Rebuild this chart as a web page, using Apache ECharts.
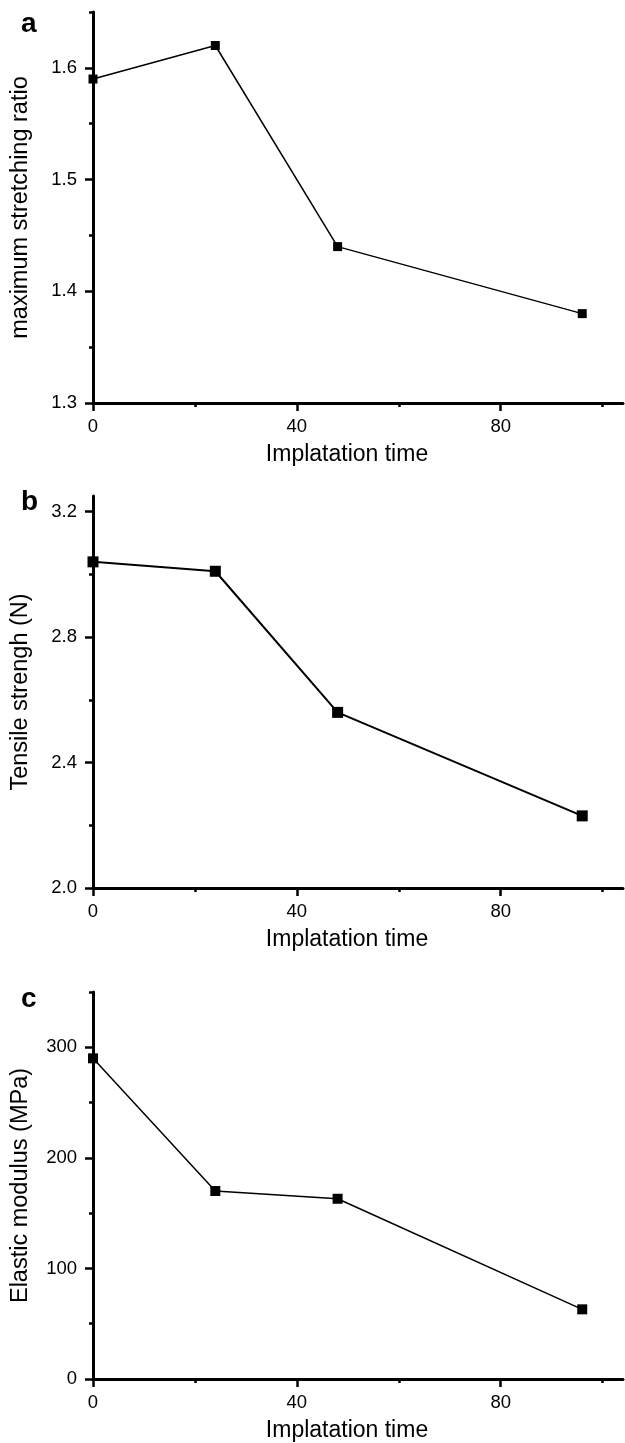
<!DOCTYPE html>
<html>
<head>
<meta charset="utf-8">
<script src="https://cdn.jsdelivr.net/npm/echarts@6/dist/echarts.min.js"></script>
<style>html,body{margin:0;padding:0;background:#fff}#c{width:625px;height:1443px}</style>
</head>
<body>
<div id="c"></div>
<script>
// ---- data ----
const times = [0, 24, 48, 96];
const stretchRatio = [1.59, 1.62, 1.44, 1.38];
const tensileStrength = [3.04, 3.01, 2.56, 2.23];
const elasticModulus = [290, 170, 163, 63];

const xTitle = 'Implatation time';
const yTitles = ['maximum stretching ratio', 'Tensile strengh (N)', 'Elastic modulus (MPa)'];
const panelLetters = ['a', 'b', 'c'];

const xTicks = [0, 40, 80];
const xMinorTicks = [20, 60, 100];
const aTicks = [1.3, 1.4, 1.5, 1.6];
const aMinorTicks = [1.35, 1.45, 1.55, 1.65];
const bTicks = [2.0, 2.4, 2.8, 3.2];
const bMinorTicks = [2.2, 2.6, 3.0];
const cTicks = [0, 100, 200, 300];
const cMinorTicks = [50, 150, 250, 350];

// ---- layout ----
const FONT = '"Liberation Sans", Arial, Helvetica, sans-serif';
const grids = [
  {left: 93, top: 12, width: 530, height: 391},
  {left: 93, top: 496, width: 530, height: 392},
  {left: 93, top: 992, width: 530, height: 390}
];
const yRanges = [[1.3, 1.65], [2.0, 3.25], [0, 350]];
const yMajor = [aTicks, bTicks, cTicks];
const yMinor = [aMinorTicks, bMinorTicks, cMinorTicks];
const yFmt = [v => v.toFixed(1), v => v.toFixed(1), v => String(Math.round(v))];
const seriesData = [stretchRatio, tensileStrength, elasticModulus];
const symSizes = [9, 11, 10];
const lineWidths = [1.5, 2, 1.5];
const letterY = [25, 503, 1000];

const xAxis = [], yAxis = [], series = [], graphic = [];
grids.forEach((g, i) => {
  xAxis.push({
    type: 'value', gridIndex: i, min: 0, max: 104, position: 'bottom',
    axisLine: {lineStyle: {color: '#000', width: 3}},
    axisTick: {customValues: xTicks, length: 8, lineStyle: {color: '#000', width: 2.5}},
    axisLabel: {customValues: xTicks, margin: 14, fontSize: 18.5, color: '#000', fontFamily: FONT},
    splitLine: {show: false},
    name: xTitle, nameLocation: 'middle', nameGap: 40,
    nameTextStyle: {fontSize: 23, color: '#000', fontFamily: FONT, padding: [0, 22, 0, 0]}
  });
  xAxis.push({
    type: 'value', gridIndex: i, min: 0, max: 104, position: 'bottom',
    axisLine: {show: false},
    axisTick: {customValues: xMinorTicks, length: 4, lineStyle: {color: '#000', width: 2.5}},
    axisLabel: {show: false}, splitLine: {show: false}
  });
  yAxis.push({
    type: 'value', gridIndex: i, min: yRanges[i][0], max: yRanges[i][1], position: 'left',
    axisLine: {lineStyle: {color: '#000', width: 3}},
    axisTick: {customValues: yMajor[i], length: 8, lineStyle: {color: '#000', width: 2.5}},
    axisLabel: {customValues: yMajor[i], margin: 16, fontSize: 18.5, color: '#000', fontFamily: FONT, formatter: yFmt[i]},
    splitLine: {show: false},
    name: yTitles[i], nameLocation: 'middle', nameGap: 60, nameRotate: 90,
    nameTextStyle: {fontSize: 23.5, color: '#000', fontFamily: FONT}
  });
  yAxis.push({
    type: 'value', gridIndex: i, min: yRanges[i][0], max: yRanges[i][1], position: 'left',
    axisLine: {show: false},
    axisTick: {customValues: yMinor[i], length: 4, lineStyle: {color: '#000', width: 2.5}},
    axisLabel: {show: false}, splitLine: {show: false}
  });
  series.push({
    type: 'line', xAxisIndex: i * 2, yAxisIndex: i * 2,
    data: times.map((t, k) => [t, seriesData[i][k]]),
    symbol: 'rect', symbolSize: symSizes[i],
    itemStyle: {color: '#000'},
    lineStyle: {color: '#000', width: lineWidths[i]},
    clip: false, animation: false
  });
  graphic.push({
    type: 'text', left: 21, top: letterY[i] - 15,
    style: {text: panelLetters[i], font: 'bold 28px ' + FONT, fill: '#000'}
  });
});

const chart = echarts.init(document.getElementById('c'), null, {renderer: 'canvas'});
chart.setOption({
  animation: false,
  backgroundColor: '#fff',
  grid: grids,
  xAxis: xAxis,
  yAxis: yAxis,
  series: series,
  graphic: graphic
});
</script>
</body>
</html>
